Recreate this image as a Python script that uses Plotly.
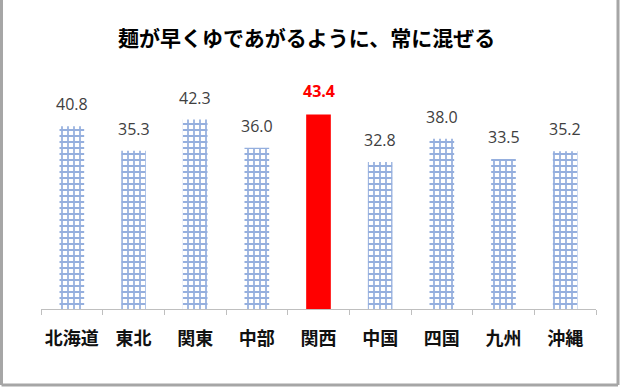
import plotly.graph_objects as go

categories = ["北海道", "東北", "関東", "中部", "関西", "中国", "四国", "九州", "沖縄"]
values = [40.8, 35.3, 42.3, 36.0, 43.4, 32.8, 38.0, 33.5, 35.2]
highlight = "関西"
title = "麺が早くゆであがるように、常に混ぜる"

W, H = 620, 387
ML, MR, MT, MB = 41, 24, 85, 78
PW, PH = W - ML - MR, H - MT - MB

blue = "#2c60bd"
red = "#ff0000"

norm_y = [None if c == highlight else v for c, v in zip(categories, values)]
hl_y = [v if c == highlight else None for c, v in zip(categories, values)]

fig = go.Figure()
fig.add_trace(go.Bar(
    x=categories, y=norm_y,
    marker=dict(
        color="white",
        line=dict(width=0),
        pattern=dict(shape="+", fgcolor=blue, bgcolor="white", fillmode="overlay",
                     size=6, solidity=0.5),
    ),
    hoverinfo="skip",
))
fig.add_trace(go.Bar(
    x=categories, y=hl_y,
    marker=dict(color=red, line=dict(width=0)),
    hoverinfo="skip",
))

annotations = []
for c, v in zip(categories, values):
    hl = c == highlight
    annotations.append(dict(
        x=c, y=v, xref="x", yref="y", text=f"<b>{v:.1f}</b>" if hl else f"{v:.1f}",
        showarrow=False, yanchor="bottom", yshift=11 if hl else 9,
        font=dict(family="Open Sans, Noto Sans, sans-serif", size=16, color=red if hl else "#404040"),
    ))
annotations.append(dict(
    x=(306 - ML) / PW, y=(H - MB - 37) / PH, xref="paper", yref="paper", text=f"<b>{title}</b>",
    showarrow=False, xanchor="center", yanchor="middle",
    font=dict(family="Noto Sans CJK JP", size=21, color="#000000"),
))

gray = "#a6a6a6"
def px(x):
    return (x - ML) / PW
def py(y):
    return (H - MB - y) / PH

shapes = [
    dict(type="line", xref="paper", yref="paper", x0=px(1.5), x1=px(1.5),
         y0=py(385), y1=py(-5), line=dict(color=gray, width=3)),
    dict(type="line", xref="paper", yref="paper", x0=px(618), x1=px(618),
         y0=py(385), y1=py(-5), line=dict(color=gray, width=3)),
    dict(type="line", xref="paper", yref="paper", x0=px(1.5), x1=px(618),
         y0=py(385), y1=py(385), line=dict(color=gray, width=3)),
]

fig.update_layout(
    width=W, height=H,
    margin=dict(l=ML, r=MR, t=MT, b=MB, pad=0),
    paper_bgcolor="white", plot_bgcolor="white",
    showlegend=False, bargap=0.6, barmode="overlay",
    annotations=annotations, shapes=shapes,
    xaxis=dict(type="category", showline=True, linecolor="#bfbfbf", linewidth=1,
               ticks="outside", tickson="boundaries", ticklen=5, tickcolor="#bfbfbf",
               showgrid=False, zeroline=False, tickangle=0,
               tickfont=dict(family="Noto Sans CJK JP", size=18, color="#111111", weight="bold"),
               ticklabelstandoff=13),
    yaxis=dict(range=[0, 50], visible=False, showgrid=False, zeroline=False),
)

fig.write_html("out.html", config={"displayModeBar": False},
               post_script="document.body.style.margin='0';")
